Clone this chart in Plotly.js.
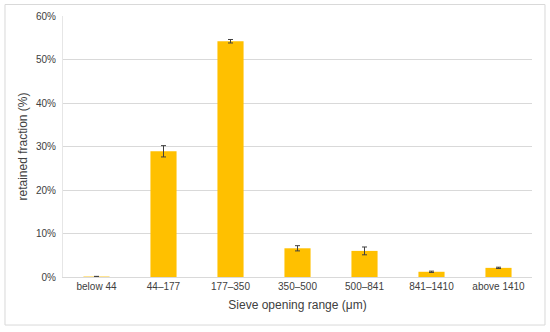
<!DOCTYPE html>
<html>
<head>
<meta charset="utf-8">
<script src="https://cdn.plot.ly/plotly-3.0.1.min.js"></script>
<style>
html,body{margin:0;padding:0;background:#fff;}
#chart{width:550px;height:332px;}
</style>
</head>
<body>
<div id="chart"></div>
<script>
const categories = ["below 44", "44–177", "177–350", "350–500", "500–841", "841–1410", "above 1410"];
const retained = [0.001, 0.289, 0.542, 0.066, 0.060, 0.012, 0.021];
const errors = [0.0005, 0.013, 0.004, 0.006, 0.009, 0.0015, 0.0015];
const yTickVals = [0, 0.1, 0.2, 0.3, 0.4, 0.5, 0.6];

const trace = {
  type: "bar",
  x: categories,
  y: retained,
  marker: {color: "#FFC000"},
  error_y: {type: "data", array: errors, visible: true, color: "#404040", thickness: 1, width: 2.5},
  hoverinfo: "none"
};

const layout = {
  width: 550, height: 332,
  margin: {l: 63, r: 18, t: 16, b: 55},
  paper_bgcolor: "#fff", plot_bgcolor: "#fff",
  font: {family: "Liberation Sans, Arial, sans-serif", size: 10, color: "#404040"},
  bargap: 0.61,
  showlegend: false,
  xaxis: {
    type: "category",
    showgrid: false,
    showline: true, linecolor: "#d9d9d9", linewidth: 1,
    ticks: "",
    tickfont: {size: 10, color: "#404040"},
    title: {text: "Sieve opening range (μm)", font: {size: 12, color: "#404040"}, standoff: 9}
  },
  yaxis: {
    range: [0, 0.6],
    tickvals: yTickVals,
    tickformat: ".0%",
    showgrid: true, gridcolor: "#d9d9d9", gridwidth: 1,
    zeroline: false,
    showline: true, linecolor: "#e6e6e6", linewidth: 1,
    ticks: "",
    ticklabelstandoff: 4,
    tickfont: {size: 10, color: "#404040"},
    title: {text: "retained fraction (%)", font: {size: 12, color: "#404040"}, standoff: 5}
  },
  shapes: [{
    type: "rect", xref: "paper", yref: "paper",
    x0: -0.1237, x1: 1.0277, y0: -0.184, y1: 1.044,
    line: {color: "#d9d9d9", width: 1}, fillcolor: "rgba(0,0,0,0)", layer: "below"
  }]
};

Plotly.newPlot("chart", [trace], layout, {staticPlot: true, displayModeBar: false});
</script>
</body>
</html>
